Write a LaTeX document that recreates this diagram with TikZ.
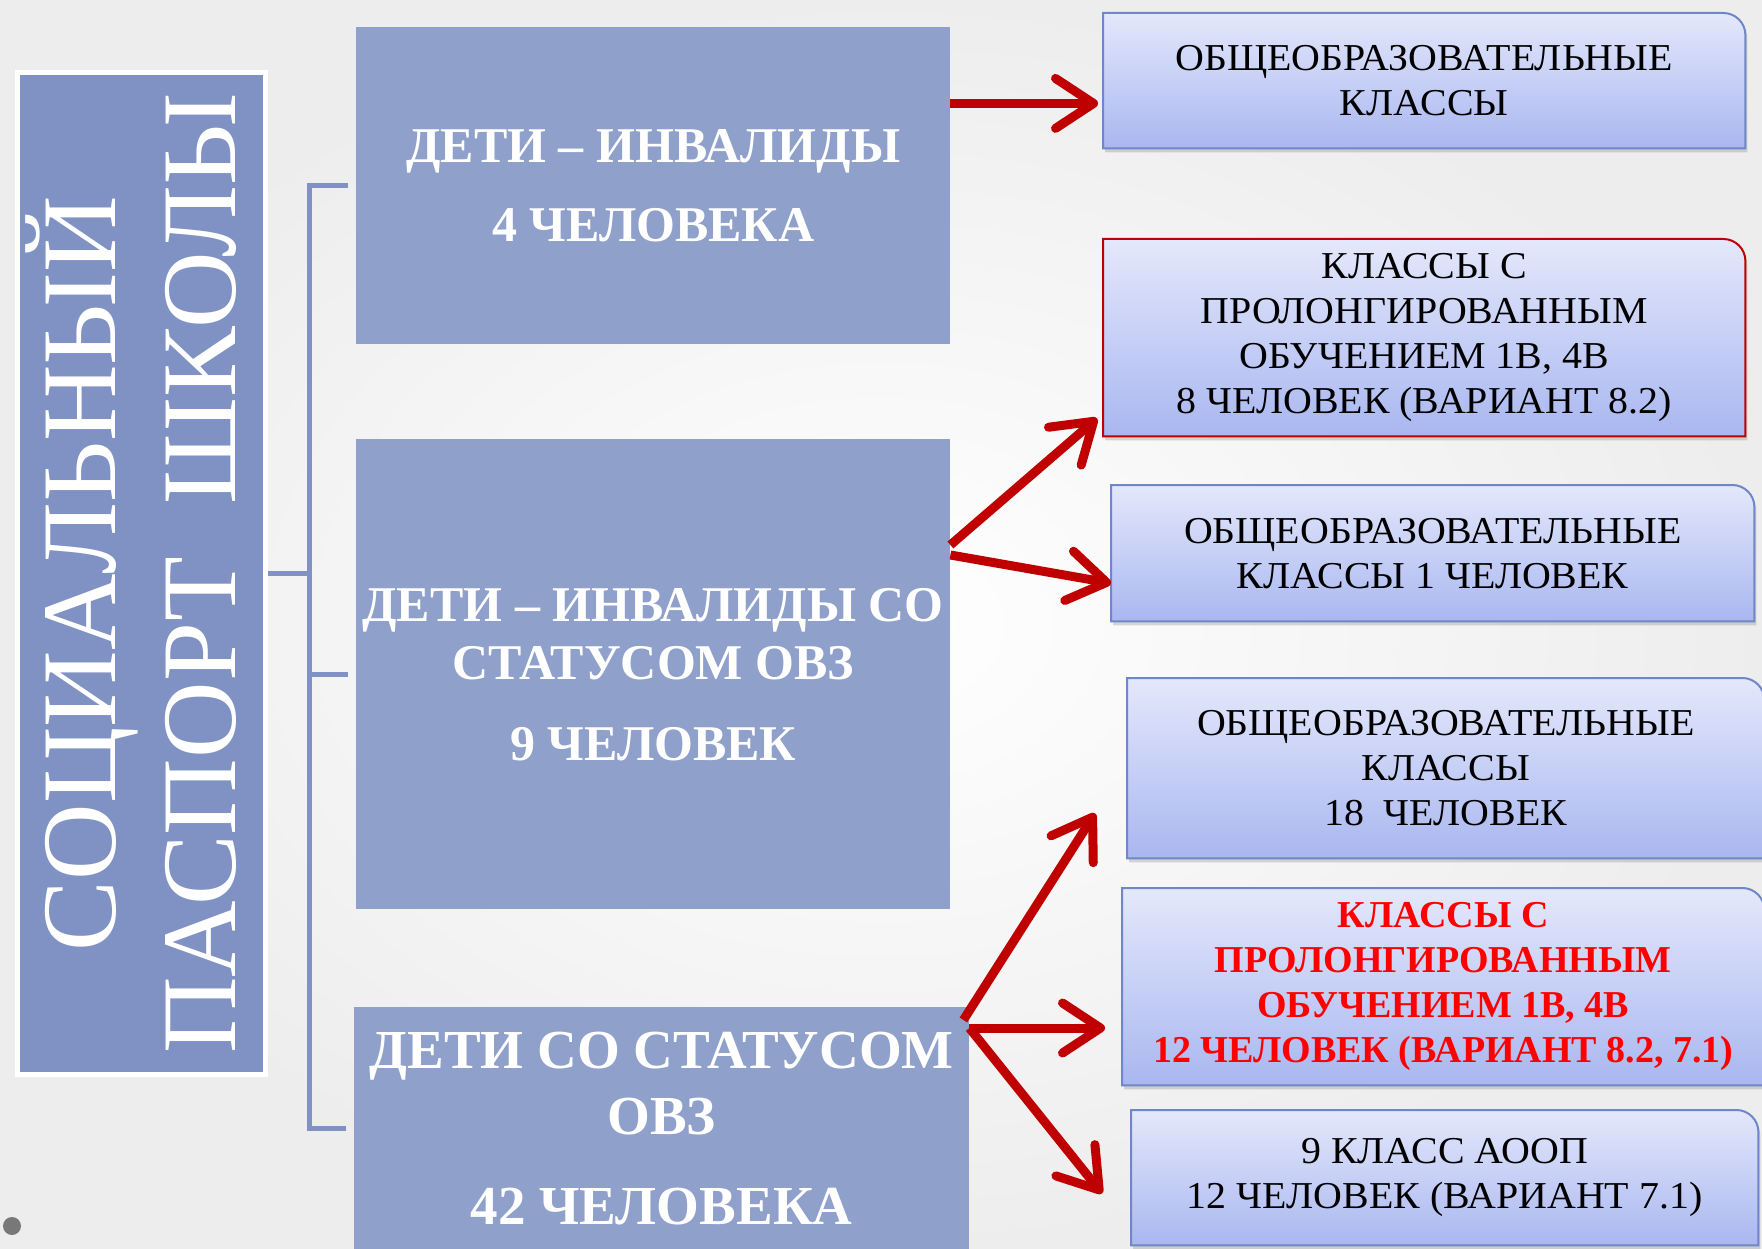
\documentclass[tikz,border=0pt]{standalone}
\usepackage{fontspec}
\setmainfont{Liberation Serif}
\newfontfamily\rfont[FakeStretch=1.05]{Liberation Serif}
\usepackage{graphicx}
\usetikzlibrary{arrows.meta,calc,backgrounds,shadows}

\definecolor{titlecol}{HTML}{7F92C3}
\definecolor{boxcol}{HTML}{8FA0CA}
\definecolor{arrcol}{HTML}{C00000}
\definecolor{rtop}{HTML}{E4E8FB}
\definecolor{rbot}{HTML}{A9B7F0}
\definecolor{rborder}{HTML}{6F86C8}
\definecolor{redborder}{HTML}{C00000}
\definecolor{redtext}{HTML}{FF0000}

\begin{document}
\begin{tikzpicture}[x=1pt,y=-1pt,
  mainbox/.style={fill=boxcol, text=white, inner sep=0pt, anchor=north west, align=center,
    font=\bfseries\fontsize{50}{58}\selectfont},
  rbox/.style={inner sep=0pt, anchor=north west, align=center, font=\rfont\fontsize{38}{45}\selectfont},
  rshape/.style={top color=rtop, bottom color=rbot, draw=rborder, line width=2pt,
    drop shadow={shadow xshift=2pt, shadow yshift=-4pt, opacity=0.3}},
  bracket/.style={draw=titlecol, line width=5pt},
  arr/.style={draw=arrcol, line width=9pt, -{Straight Barb[length=38pt, width=50pt, round]}},
]
\useasboundingbox (0,0) rectangle (1762,1249);

% title
\node[fill=titlecol, draw=white, line width=5pt, minimum width=248pt, minimum height=1002pt,
  inner sep=0pt, anchor=north west, text=white] (title) at (15,70)
  {\hspace*{7pt}\rotatebox{90}{\fontsize{106}{120}\selectfont\begin{tabular}{@{}c@{}}СОЦИАЛЬНЫЙ\\ПАСПОРТ\ \ ШКОЛЫ\end{tabular}}\hspace*{-7pt}};

% main boxes
\node[mainbox, minimum width=594pt, minimum height=317pt] (b1) at (356,27)
  {ДЕТИ – ИНВАЛИДЫ\\[21pt]4 ЧЕЛОВЕКА};
\node[mainbox, minimum width=594pt, minimum height=470pt] (b2) at (356,439)
  {ДЕТИ – ИНВАЛИДЫ СО\\СТАТУСОМ ОВЗ\\[23pt]9 ЧЕЛОВЕК};
\node[mainbox, minimum width=615pt, minimum height=242pt, font=\bfseries\fontsize{55}{66}\selectfont] (b3) at (354,1007)
  {ДЕТИ СО СТАТУСОМ\\ОВЗ\\[24pt]42 ЧЕЛОВЕКА};

% right boxes
\node[rbox, minimum width=642pt, minimum height=135pt] (r1) at (1103,13)
  {ОБЩЕОБРАЗОВАТЕЛЬНЫЕ\\КЛАССЫ};
\node[rbox, minimum width=642pt, minimum height=197pt] (r2) at (1103,239)
  {КЛАССЫ С\\ПРОЛОНГИРОВАННЫМ\\ОБУЧЕНИЕМ 1В, 4В\\8 ЧЕЛОВЕК (ВАРИАНТ 8.2)};
\node[rbox, minimum width=643pt, minimum height=136pt] (r3) at (1111,485)
  {ОБЩЕОБРАЗОВАТЕЛЬНЫЕ\\КЛАССЫ 1 ЧЕЛОВЕК};
\node[rbox, minimum width=637pt, minimum height=180pt] (r4) at (1127,678)
  {ОБЩЕОБРАЗОВАТЕЛЬНЫЕ\\КЛАССЫ\\18\ \ ЧЕЛОВЕК};
\node[rbox, minimum width=642pt, minimum height=197pt, text=redtext, font=\bfseries\fontsize{38}{45}\selectfont] (r5) at (1122,888)
  {КЛАССЫ С\\ПРОЛОНГИРОВАННЫМ\\ОБУЧЕНИЕМ 1В, 4В\\12 ЧЕЛОВЕК (ВАРИАНТ 8.2, 7.1)};
\node[rbox, minimum width=627pt, minimum height=135pt] (r6) at (1131,1110)
  {9 КЛАСС АООП\\12 ЧЕЛОВЕК (ВАРИАНТ 7.1)};

\begin{scope}[on background layer]
  \shade[inner color=white, outer color=black!7] (0,0) rectangle (1762,1249);
  \fill[black!53] (12,1226) circle[radius=9pt];
  \foreach \n/\bc in {r1/rborder, r2/redborder, r3/rborder, r4/rborder, r5/rborder, r6/rborder}{
    \path[rshape, draw=\bc] (\n.south west) -- (\n.north west) -- ([xshift=-22pt]\n.north east)
      .. controls ([xshift=-9.9pt]\n.north east) and ([yshift=-9.9pt]\n.north east) .. ([yshift=-22pt]\n.north east)
      -- (\n.south east) -- cycle;
  }
\end{scope}

% bracket
\path ($(b1.west)+(-47,0)$) coordinate (bx);
\draw[bracket] ($(b1.west)+(-8,0)$) -- (bx) |- ($(b3.west)+(-8,0)$);
\draw[bracket] (title.east) -- (bx |- title.east);
\draw[bracket] (bx |- b2.west) -- ($(b2.west)+(-8,0)$);

% arrow end points
\coordinate (t1) at ($(r1.south west)+(-5,-45)$);
\coordinate (o1) at (b1.east |- t1);
\coordinate (o2) at ($(b2.north east)+(0,106)$);
\coordinate (t2) at ($(r2.south west)+(-6,-18)$);
\coordinate (o3) at ($(b2.north east)+(0,116)$);
\coordinate (t3) at ($(r3.west)+(0,30)$);
\coordinate (o4) at ($(b3.north east)+(-6,13)$);
\coordinate (t4) at ($(r4.south west)+(-32,-45)$);
\coordinate (o5) at ($(b3.north east)+(0,21)$);
\coordinate (t5) at ($(o5 -| r5.west)+(-17,0)$);
\coordinate (t6) at ($(r6.south west)+(-29,-52)$);

\draw[arr] (o1) -- (t1);
\draw[arr] (o2) -- (t2);
\draw[arr] (o3) -- (t3);
\draw[arr] (o4) -- (t4);
\draw[arr] (o5) -- (t5);
\draw[arr] (o5) -- (t6);
\end{tikzpicture}
\end{document}
